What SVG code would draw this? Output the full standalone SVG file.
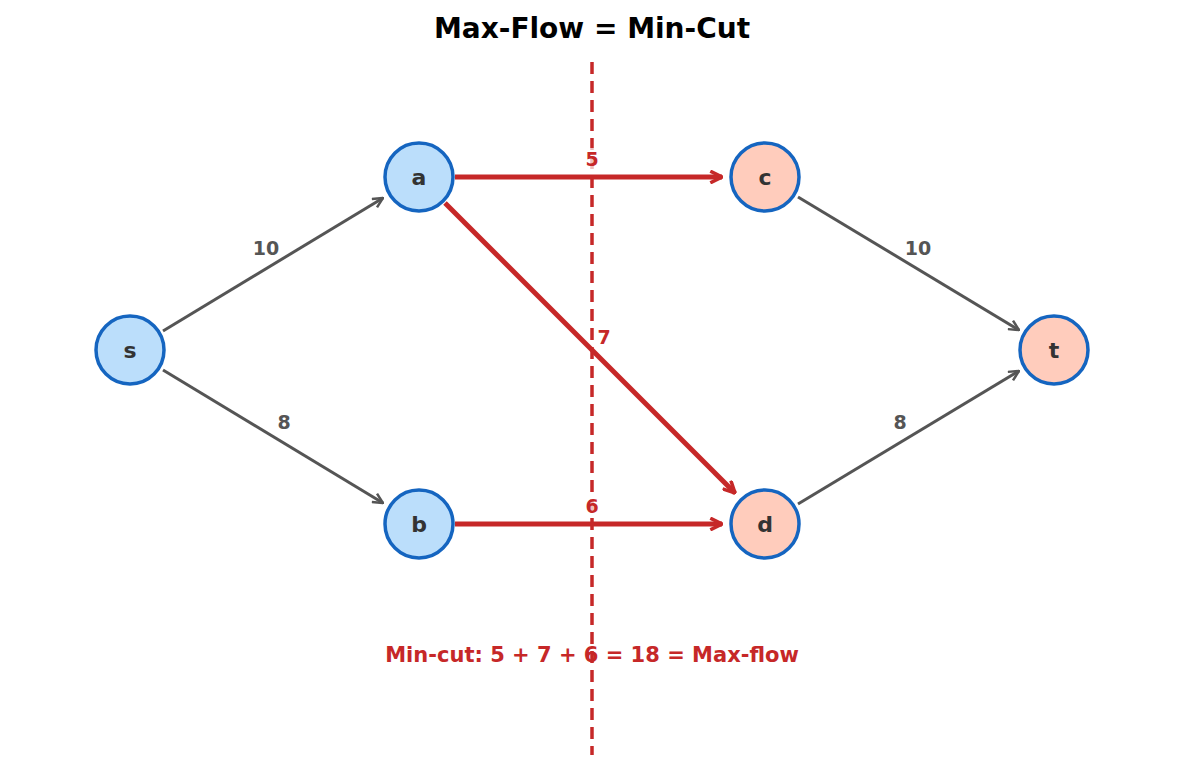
<svg xmlns="http://www.w3.org/2000/svg" width="1185" height="770" viewBox="0 0 1185 770">
<style>
text{font-family:"DejaVu Sans","Liberation Sans",sans-serif;font-weight:bold}
.n1{fill:#bbdefb;stroke:#1565c0;stroke-width:3.5}
.n2{fill:#ffccbc;stroke:#1565c0;stroke-width:3.5}
.nl{font-size:22px;fill:#333;text-anchor:middle;dominant-baseline:central}
.g{stroke:#555;stroke-width:3;fill:none}
.r{stroke:#c62828;stroke-width:5;fill:none}
.gl{font-size:19px;fill:#555;text-anchor:middle;dominant-baseline:central}
.rl{font-size:19px;fill:#c62828;text-anchor:middle;dominant-baseline:central}
</style>
<defs>
<marker id="ag" viewBox="0 0 12 12" refX="11" refY="6" markerWidth="12" markerHeight="12" markerUnits="userSpaceOnUse" orient="auto"><path d="M1,1 L11,6 L1,11" fill="none" stroke="#555" stroke-width="2.5"/></marker>
<marker id="ar" viewBox="0 0 12 12" refX="11" refY="6" markerWidth="14" markerHeight="14" markerUnits="userSpaceOnUse" orient="auto"><path d="M1,1 L11,6 L1,11" fill="none" stroke="#c62828" stroke-width="3"/></marker>
</defs>
<rect width="1185" height="770" fill="#fff"/>
<text x="592" y="28" font-size="28" text-anchor="middle" dominant-baseline="central" fill="#000">Max-Flow = Min-Cut</text>
<g id="connectors">
<path class="g" d="M163,331 L383,198" marker-end="url(#ag)"/>
<path class="g" d="M163,370 L383,503" marker-end="url(#ag)"/>
<path class="g" d="M798,197 L1019,330" marker-end="url(#ag)"/>
<path class="g" d="M798,504 L1019,371" marker-end="url(#ag)"/>
<path class="r" d="M455,177 L722,177" marker-end="url(#ar)"/>
<path class="r" d="M445,203 L735,493" marker-end="url(#ar)"/>
<path class="r" d="M455,524 L722,524" marker-end="url(#ar)"/>
<line x1="592" y1="62" x2="592" y2="755" stroke="#c62828" stroke-width="3.5" stroke-dasharray="12,7"/>
<rect x="578" y="148" width="28" height="22" fill="#fff" opacity="0.7"/>
<text class="rl" x="592" y="159">5</text>
<text class="rl" x="604" y="337">7</text>
<rect x="578" y="495" width="28" height="22" fill="#fff" opacity="0.7"/>
<text class="rl" x="592" y="506">6</text>
<text class="gl" x="266" y="248">10</text>
<text class="gl" x="284" y="422">8</text>
<text class="gl" x="918" y="248">10</text>
<text class="gl" x="900" y="422">8</text>
</g>
<g id="s"><circle class="n1" cx="130" cy="350" r="34"/><text class="nl" x="130" y="350">s</text></g>
<g id="a"><circle class="n1" cx="419" cy="177" r="34"/><text class="nl" x="419" y="177">a</text></g>
<g id="b"><circle class="n1" cx="419" cy="524" r="34"/><text class="nl" x="419" y="524">b</text></g>
<g id="c"><circle class="n2" cx="765" cy="177" r="34"/><text class="nl" x="765" y="177">c</text></g>
<g id="d"><circle class="n2" cx="765" cy="524" r="34"/><text class="nl" x="765" y="524">d</text></g>
<g id="t"><circle class="n2" cx="1054" cy="350" r="34"/><text class="nl" x="1054" y="350">t</text></g>
<text x="592" y="655" font-size="21" fill="#c62828" text-anchor="middle" dominant-baseline="central">Min-cut: 5 + 7 + 6 = 18 = Max-flow</text>
</svg>
